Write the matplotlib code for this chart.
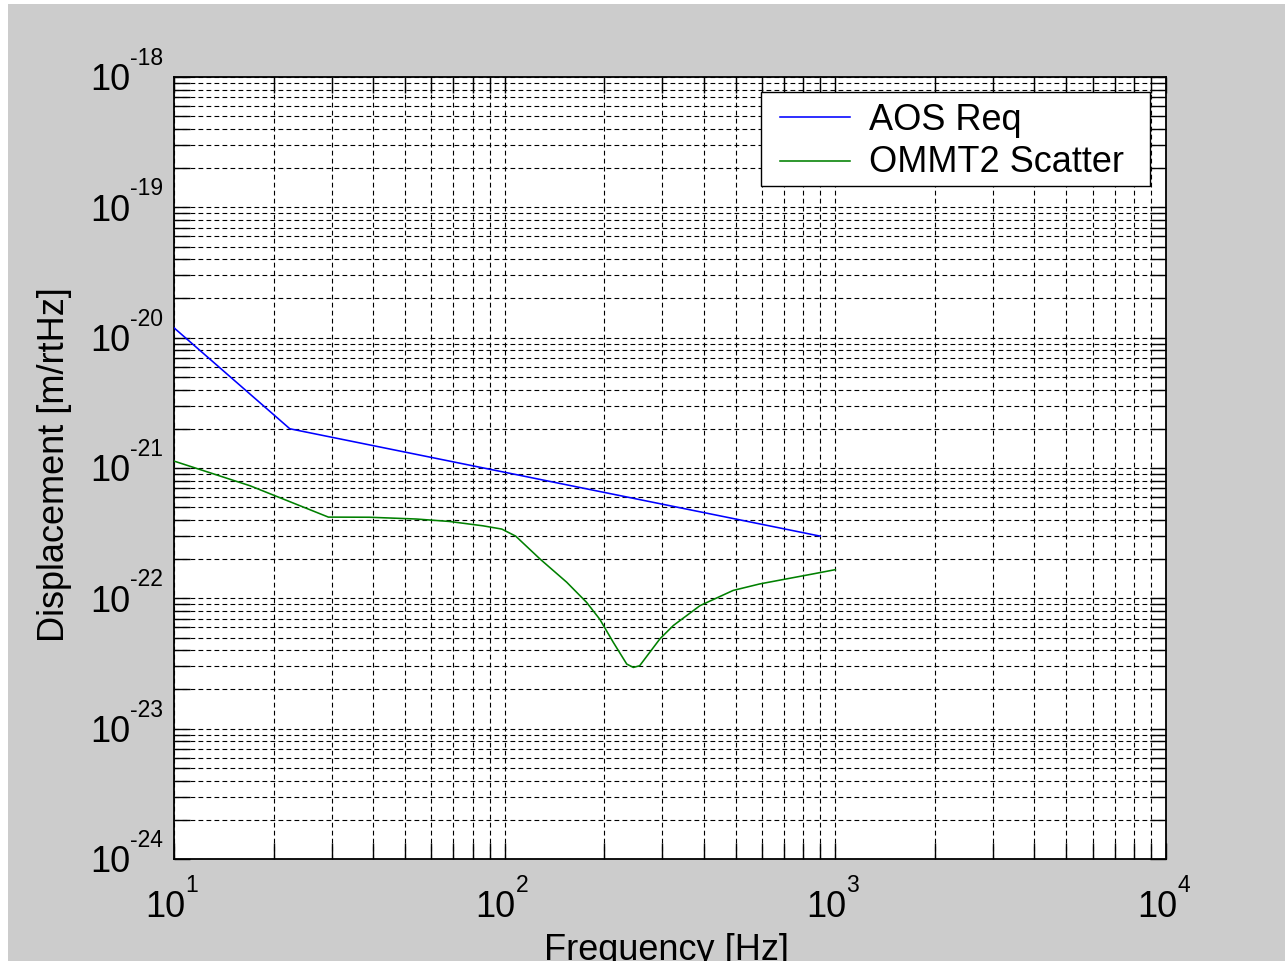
import numpy as np
import matplotlib
matplotlib.use("Agg")
import matplotlib.pyplot as plt
from matplotlib.patches import Rectangle
from matplotlib.lines import Line2D
from matplotlib.transforms import blended_transform_factory, offset_copy
from matplotlib.ticker import LogLocator, NullFormatter

# AOS requirement curve
aos_freq = [10, 22.4, 900]
aos_disp = [1.19e-20, 2.0e-21, 3.0e-22]

# OMMT2 scatter estimate
ommt_freq = [10, 17, 29.3, 39, 54, 68, 86, 98, 108, 128, 154, 177, 194, 213,
             234, 245, 256, 295, 324, 390, 491, 591, 712, 857, 1000]
ommt_disp = [1.13e-21, 7.3e-22, 4.2e-22, 4.19e-22, 4.06e-22, 3.89e-22, 3.6e-22,
             3.4e-22, 3.0e-22, 2.0e-22, 1.33e-22, 9.3e-23, 6.9e-23, 4.6e-23,
             3.13e-23, 2.95e-23, 3.04e-23, 4.9e-23, 6.2e-23, 8.8e-23, 1.15e-22,
             1.29e-22, 1.41e-22, 1.54e-22, 1.66e-22]

series_labels = ["AOS Req", "OMMT2 Scatter"]
series_colors = ["#0000ff", "#008000"]
x_decades = [1, 2, 3, 4]
y_decades = [-24, -23, -22, -21, -20, -19, -18]

plt.rcParams["font.family"] = ["Liberation Sans", "DejaVu Sans"]

W, H, DPI = 1285, 962, 100
fig = plt.figure(figsize=(W / DPI, H / DPI), dpi=DPI, facecolor="white")
fig.patches.append(Rectangle((8 / W, 0), 1 - 8 / W, 1 - 5 / H,
                             transform=fig.transFigure, facecolor="#cccccc",
                             edgecolor="none", zorder=-10))


def fx(px):
    return px / W


def fy(py):
    return 1 - py / H


ax = fig.add_axes([fx(174), fy(860), (1166 - 174) / W, (860 - 78) / H])
ax.set_facecolor("white")
ax.set_xscale("log")
ax.set_yscale("log")
ax.set_xlim(10 ** x_decades[0], 10 ** x_decades[-1])
ax.set_ylim(10.0 ** y_decades[0], 10.0 ** y_decades[-1])

ax.plot(aos_freq, aos_disp, color=series_colors[0], lw=1.15, zorder=3)
ax.plot(ommt_freq, ommt_disp, color=series_colors[1], lw=1.15, zorder=3)

for axis in (ax.xaxis, ax.yaxis):
    axis.set_major_locator(LogLocator(base=10, numticks=20))
    axis.set_minor_locator(LogLocator(base=10, subs=np.arange(2, 10), numticks=20))
    axis.set_minor_formatter(NullFormatter())
    axis.set_major_formatter(NullFormatter())

ax.tick_params(which="both", direction="in", top=True, right=True,
               length=11.5, width=1.0, color="black",
               labelbottom=False, labelleft=False)
for s in ax.spines.values():
    s.set_linewidth(1.3)
    s.set_color("black")

ax.grid(True, which="both", color="black", lw=0.8, linestyle=(0, (4.3, 2.9)))
for gl in ax.get_xgridlines() + ax.get_ygridlines():
    gl.set_zorder(1)

# Tick labels: base "10" with a raised exponent
base_fs, exp_fs = 26, 16.5
ytrans = blended_transform_factory(ax.transAxes, ax.transData)
for d in y_decades:
    ax.text(0, 10.0 ** d, "10", fontsize=base_fs, ha="right", va="baseline",
            transform=offset_copy(ytrans, fig=fig, x=-44, y=-12.5, units="dots"),
            clip_on=False)
    ax.text(0, 10.0 ** d, f"{d}", fontsize=exp_fs, ha="left", va="baseline",
            transform=offset_copy(ytrans, fig=fig, x=-44, y=13, units="dots"),
            clip_on=False)

xtrans = blended_transform_factory(ax.transData, ax.transAxes)
for d in x_decades:
    ax.text(10.0 ** d, 0, "10", fontsize=base_fs, ha="right", va="baseline",
            transform=offset_copy(xtrans, fig=fig, x=11, y=-57, units="dots"),
            clip_on=False)
    ax.text(10.0 ** d, 0, f"{d}", fontsize=exp_fs, ha="left", va="baseline",
            transform=offset_copy(xtrans, fig=fig, x=11, y=-32, units="dots"),
            clip_on=False)

fig.text(fx(55), fy(465), "Displacement [m/rtHz]", fontsize=26,
         rotation=90, ha="center", va="center")
fig.text(fx(666), fy(933), "Frequency [Hz]", fontsize=26,
         ha="center", va="top")

# Legend box with line samples and labels
fig.patches.append(Rectangle((fx(761), fy(187)), (1150 - 761) / W, (187 - 93) / H,
                             transform=fig.transFigure, facecolor="white",
                             edgecolor="black", lw=1.0, zorder=5))
row_line_y = [118, 162]
row_base_y = [130, 172]
for lab, col, ly, by in zip(series_labels, series_colors, row_line_y, row_base_y):
    fig.lines.append(Line2D([fx(780), fx(850)], [fy(ly), fy(ly)], color=col,
                            lw=1.15, transform=fig.transFigure, zorder=6))
    fig.text(fx(869), fy(by), lab, fontsize=26, ha="left", va="baseline",
             zorder=6)

fig.savefig("out.png", dpi=DPI, facecolor=fig.get_facecolor())
